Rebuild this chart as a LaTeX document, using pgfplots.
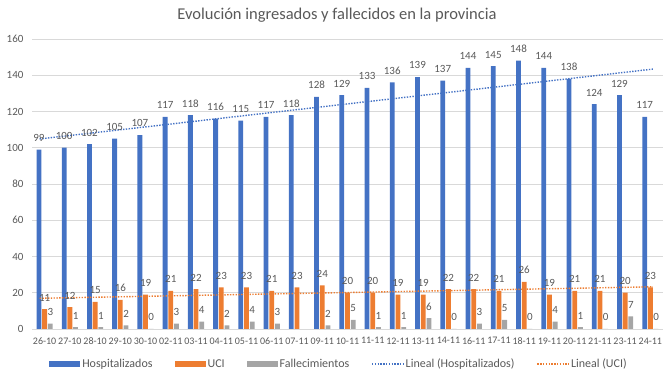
\documentclass[border=0pt]{standalone}
\usepackage{fontspec}
\setmainfont{Carlito}
\usepackage{pgfplots}
\pgfplotsset{compat=1.18}
\definecolor{hosp}{HTML}{4472C4}
\definecolor{uci}{HTML}{ED7D31}
\definecolor{fall}{HTML}{A5A5A5}
\definecolor{txt}{HTML}{595959}
\definecolor{gridc}{HTML}{D9D9D9}
\begin{document}
\begin{tikzpicture}
\useasboundingbox (0,0) rectangle (670pt,377pt);
\begin{axis}[
  at={(32pt,48pt)}, anchor=south west, scale only axis,
  width=631pt, height=290pt,
  xmin=-0.5, xmax=24.5, ymin=0, ymax=160,
  ytick={0,20,...,160},
  xtick={0,...,24},
  xticklabels={26-10,27-10,28-10,29-10,30-10,02-11,03-11,04-11,05-11,06-11,07-11,09-11,10-11,11-11,12-11,13-11,14-11,16-11,17-11,18-11,19-11,20-11,21-11,23-11,24-11},
  axis lines*=left,
  x axis line style={draw=gridc, line width=0.75pt},
  y axis line style={draw=none},
  major tick length=0pt,
  ymajorgrids,
  grid style={gridc, line width=0.75pt},
  tick label style={text=txt},
  xticklabel style={font=\fontsize{10}{12}\selectfont, yshift=-5pt},
  yticklabel style={font=\fontsize{11}{13}\selectfont, xshift=-5pt},
  /pgf/number format/assume math mode=true,
  clip=false,
  legend columns=5,
  legend style={at={(0.4865,-0.1207)}, anchor=center, draw=none, fill=none,
    font=\fontsize{12}{14}\selectfont, text=txt,
    /tikz/every even column/.append style={column sep=20pt}},
]
\addplot[ybar, bar width=4.8pt, bar shift=-5.7pt, fill=hosp, draw=none,
  nodes near coords, nodes near coords style={font=\fontsize{11}{13}\selectfont, text=txt, yshift=4.5pt, xshift=-5.7pt},
  legend image code/.code={\fill[hosp] (0pt,-3.2pt) rectangle (31pt,3.2pt);}]
coordinates {(0,99)(1,100)(2,102)(3,105)(4,107)(5,117)(6,118)(7,116)(8,115)(9,117)(10,118)(11,128)(12,129)(13,133)(14,136)(15,139)(16,137)(17,144)(18,145)(19,148)(20,144)(21,138)(22,124)(23,129)(24,117)};
\addlegendentry{Hospitalizados}
\addplot[ybar, bar width=4.8pt, bar shift=0pt, fill=uci, draw=none,
  nodes near coords, nodes near coords style={font=\fontsize{11}{13}\selectfont, text=txt, yshift=4.5pt},
  legend image code/.code={\fill[uci] (0pt,-3.2pt) rectangle (31pt,3.2pt);}]
coordinates {(0,11)(1,12)(2,15)(3,16)(4,19)(5,21)(6,22)(7,23)(8,23)(9,21)(10,23)(11,24)(12,20)(13,20)(14,19)(15,19)(16,22)(17,22)(18,21)(19,26)(20,19)(21,21)(22,21)(23,20)(24,23)};
\addlegendentry{UCI}
\addplot[ybar, bar width=4.8pt, bar shift=5.7pt, fill=fall, draw=none,
  nodes near coords, nodes near coords style={font=\fontsize{11}{13}\selectfont, text=txt, yshift=4.5pt, xshift=5.7pt},
  legend image code/.code={\fill[fall] (0pt,-3.2pt) rectangle (31pt,3.2pt);}]
coordinates {(0,3)(1,1)(2,1)(3,2)(4,0)(5,3)(6,4)(7,2)(8,4)(9,3)(11,2)(12,5)(13,1)(14,1)(15,6)(16,0)(17,3)(18,5)(19,0)(20,4)(21,1)(22,0)(23,7)(24,0)};
\addlegendentry{Fallecimientos}
\addplot[sharp plot, hosp, line width=1.4pt, dash pattern=on 1.4pt off 1.4pt,
  legend image code/.code={\draw[hosp, line width=1.4pt, dash pattern=on 1.4pt off 1.4pt] (0pt,0pt) -- (31pt,0pt);}]
coordinates {(-0.2,104.85)(24.1,143.39)};
\addlegendentry{Lineal (Hospitalizados)}
\addplot[sharp plot, uci, line width=1.4pt, dash pattern=on 1.4pt off 1.4pt,
  legend image code/.code={\draw[uci, line width=1.4pt, dash pattern=on 1.4pt off 1.4pt] (0pt,0pt) -- (31pt,0pt);}]
coordinates {(-0.2,16.94)(24.1,23.28)};
\addlegendentry{Lineal (UCI)}
\end{axis}
\node[font=\fontsize{16.5}{20}\selectfont, text=txt] at (337pt,362pt) {Evolución ingresados y fallecidos en la provincia};
\end{tikzpicture}
\end{document}
